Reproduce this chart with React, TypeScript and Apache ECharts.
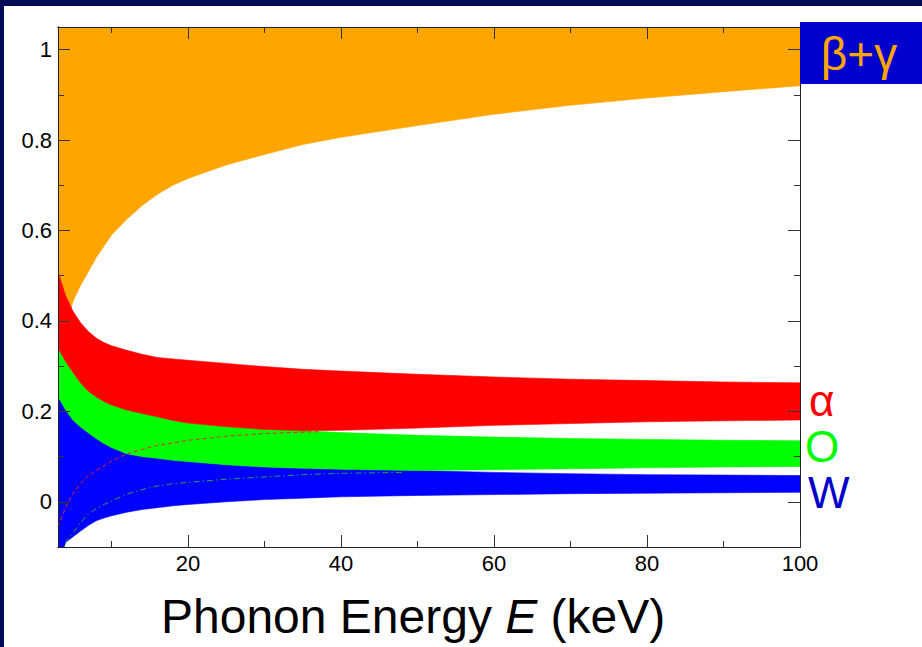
import React, { useEffect, useRef } from "react";
import * as echarts from "echarts";

// Phonon energy samples (keV)
const energy = [3, 4, 5, 6, 7, 8, 9, 10, 12, 14, 16, 18, 20, 25, 30, 35, 40, 50, 60, 70, 80, 90, 100];
// β+γ band lower edge (band fills up to the top of the plot)
const betaGammaLower = [0.30, 0.39, 0.445, 0.48, 0.51, 0.54, 0.565, 0.59, 0.625, 0.655, 0.68, 0.70, 0.715, 0.745, 0.768, 0.79, 0.806, 0.832, 0.857, 0.877, 0.893, 0.907, 0.92];
// α band
const alphaUpper = [0.509, 0.455, 0.42, 0.395, 0.376, 0.362, 0.352, 0.345, 0.335, 0.326, 0.319, 0.316, 0.313, 0.306, 0.299, 0.293, 0.289, 0.282, 0.276, 0.271, 0.268, 0.265, 0.263];
const alphaLower = [0.340, 0.31, 0.285, 0.262, 0.244, 0.232, 0.222, 0.214, 0.203, 0.195, 0.188, 0.18, 0.174, 0.166, 0.16, 0.157, 0.158, 0.163, 0.169, 0.173, 0.177, 0.179, 0.181];
// O band
const oxygenUpper = [0.340, 0.31, 0.285, 0.262, 0.244, 0.232, 0.222, 0.214, 0.203, 0.195, 0.188, 0.18, 0.174, 0.166, 0.16, 0.157, 0.153, 0.147, 0.143, 0.14, 0.138, 0.136, 0.135];
const oxygenLower = [0.233, 0.203, 0.18, 0.165, 0.152, 0.14, 0.129, 0.12, 0.106, 0.1, 0.096, 0.092, 0.089, 0.082, 0.077, 0.074, 0.072, 0.069, 0.071, 0.073, 0.075, 0.077, 0.078];
// W band
const tungstenUpper = [0.233, 0.203, 0.18, 0.165, 0.152, 0.14, 0.129, 0.12, 0.106, 0.1, 0.096, 0.092, 0.089, 0.082, 0.077, 0.074, 0.072, 0.069, 0.065, 0.062, 0.06, 0.059, 0.058];
const tungstenLower = [-0.14, -0.09, -0.077, -0.064, -0.052, -0.042, -0.036, -0.031, -0.023, -0.017, -0.013, -0.009, -0.006, 0.0, 0.005, 0.008, 0.011, 0.014, 0.016, 0.018, 0.019, 0.02, 0.021];

// dashed curves
const alphaMeanE = [3, 4, 5, 6, 7, 8, 9, 10, 12, 14, 16, 18, 20, 25, 30, 35, 37];
const alphaMean = [-0.055, -0.012, 0.02, 0.042, 0.058, 0.07, 0.079, 0.09, 0.106, 0.116, 0.125, 0.13, 0.136, 0.145, 0.151, 0.154, 0.155];
const oxygenMeanE = [3.5, 4, 5, 6, 7, 8, 9, 10, 12, 14, 16, 18, 20, 25, 30, 35, 40, 48];
const oxygenMean = [-0.12, -0.09, -0.068, -0.045, -0.027, -0.015, -0.006, 0.002, 0.017, 0.027, 0.035, 0.04, 0.043, 0.05, 0.055, 0.06, 0.063, 0.065];

// axis ticks
const xMajorTicks = [20, 40, 60, 80, 100];
const xMinorTicks = [10, 30, 50, 70, 90];
const yMajorTicks = [0, 0.2, 0.4, 0.6, 0.8, 1];
const yMinorTicks = [0.1, 0.3, 0.5, 0.7, 0.9];

const X_MIN = 3;
const X_MAX = 100;
const Y_MIN = -0.1;
const Y_MAX = 1.05;

const FONT = "'Liberation Sans', Arial, Helvetica, sans-serif";

function bandSeries(name: string, lower: number[], upper: number[] | null, color: string) {
  return {
    name,
    type: "custom",
    clip: true,
    silent: true,
    data: energy.map((e, i) => [e, lower[i], upper ? upper[i] : Y_MAX]),
    encode: { x: 0, y: [1, 2] },
    renderItem: (params: any, api: any) => {
      if (params.dataIndex !== 0) return null;
      const pts: number[][] = [];
      for (let i = 0; i < energy.length; i++) {
        pts.push(api.coord([energy[i], upper ? upper[i] : Y_MAX]));
      }
      for (let i = energy.length - 1; i >= 0; i--) {
        pts.push(api.coord([energy[i], lower[i]]));
      }
      return {
        type: "polygon",
        shape: { points: pts },
        style: { fill: color, stroke: color, lineWidth: 0.6 },
      };
    },
  };
}

function xAxisDef(position: string, ticks: number[], len: number, labels: boolean) {
  return {
    type: "value",
    position,
    min: X_MIN,
    max: X_MAX,
    z: 10,
    axisLine: { show: true, onZero: false, lineStyle: { color: "#222", width: 1 } },
    axisTick: { show: true, inside: true, length: len, customValues: ticks, lineStyle: { color: "#333", width: 1 } },
    axisLabel: labels
      ? { show: true, customValues: ticks, color: "#000", fontSize: 22, fontFamily: FONT, margin: 5 }
      : { show: false },
    splitLine: { show: false },
  };
}

function yAxisDef(position: string, ticks: number[], len: number, labels: boolean) {
  return {
    type: "value",
    position,
    min: Y_MIN,
    max: Y_MAX,
    z: 10,
    axisLine: { show: true, onZero: false, lineStyle: { color: "#222", width: 1 } },
    axisTick: { show: true, inside: true, length: len, customValues: ticks, lineStyle: { color: "#333", width: 1 } },
    axisLabel: labels
      ? { show: true, customValues: ticks, color: "#000", fontSize: 22, fontFamily: FONT, margin: 6 }
      : { show: false },
    splitLine: { show: false },
  };
}

export default function App() {
  const ref = useRef<HTMLDivElement>(null);

  useEffect(() => {
    document.body.style.margin = "0";
    if (!ref.current) return;
    const chart = echarts.init(ref.current, undefined, { renderer: "svg" });

    const series: any[] = [
      bandSeries("β+γ", betaGammaLower, null, "#ffa500"),
      bandSeries("W", tungstenLower, tungstenUpper, "#0000ff"),
      bandSeries("O", oxygenLower, oxygenUpper, "#00ff00"),
      bandSeries("α", alphaLower, alphaUpper, "#ff0000"),
      {
        name: "α mean",
        type: "line",
        data: alphaMeanE.map((e, i) => [e, alphaMean[i]]),
        showSymbol: false,
        symbol: "none",
        lineStyle: { width: 1, color: "#e8242c", type: [4, 3] },
        silent: true,
        z: 5,
      },
      {
        name: "O mean",
        type: "line",
        data: oxygenMeanE.map((e, i) => [e, oxygenMean[i]]),
        showSymbol: false,
        symbol: "none",
        lineStyle: { width: 1, color: "#26a050", type: [6, 3, 1.5, 3] },
        silent: true,
        z: 5,
      },
    ];

    chart.setOption({
      animation: false,
      backgroundColor: "#ffffff",
      grid: { left: 54, top: 21, right: 122, bottom: 100, containLabel: false },
      xAxis: [
        xAxisDef("bottom", xMajorTicks, 12, true),
        xAxisDef("bottom", xMinorTicks, 6, false),
        xAxisDef("top", xMajorTicks, 12, false),
        xAxisDef("top", xMinorTicks, 6, false),
      ],
      yAxis: [
        yAxisDef("left", yMajorTicks, 12, true),
        yAxisDef("left", yMinorTicks, 6, false),
        yAxisDef("right", yMajorTicks, 12, false),
        yAxisDef("right", yMinorTicks, 6, false),
      ],
      series,
      graphic: [
        {
          type: "rect",
          shape: { x: 796, y: 16, width: 122, height: 62 },
          style: { fill: "#0000cc" },
          z: 20,
        },
        {
          type: "text",
          x: 855,
          y: 48,
          z: 21,
          style: { text: "β+γ", fill: "#ffa500", fontSize: 46, fontFamily: FONT, align: "center", verticalAlign: "middle" },
        },
        {
          type: "text",
          x: 805,
          y: 394,
          z: 21,
          style: { text: "α", fill: "#ff0000", fontSize: 44, fontFamily: FONT, align: "left", verticalAlign: "middle" },
        },
        {
          type: "text",
          x: 801,
          y: 440,
          z: 21,
          style: { text: "O", fill: "#00ff00", fontSize: 44, fontFamily: FONT, align: "left", verticalAlign: "middle" },
        },
        {
          type: "text",
          x: 804,
          y: 486,
          z: 21,
          style: { text: "W", fill: "#0000cc", fontSize: 44, fontFamily: FONT, align: "left", verticalAlign: "middle" },
        },
        {
          type: "text",
          x: 157,
          y: 610,
          z: 21,
          style: {
            text: "{a|Phonon Energy }{i|E}{a| (keV)}",
            align: "left",
            verticalAlign: "middle",
            rich: {
              a: { fontSize: 48, fontFamily: FONT, fill: "#000", color: "#000" },
              i: { fontSize: 48, fontFamily: FONT, fontStyle: "italic", fill: "#000", color: "#000" },
            },
          },
        },
      ],
    });

    return () => chart.dispose();
  }, []);

  return (
    <div style={{ position: "fixed", left: 0, top: 0, width: 922, height: 647, background: "#020c57", overflow: "hidden" }}>
      <div ref={ref} style={{ position: "absolute", left: 4, top: 6, width: 918, height: 641 }} />
    </div>
  );
}
